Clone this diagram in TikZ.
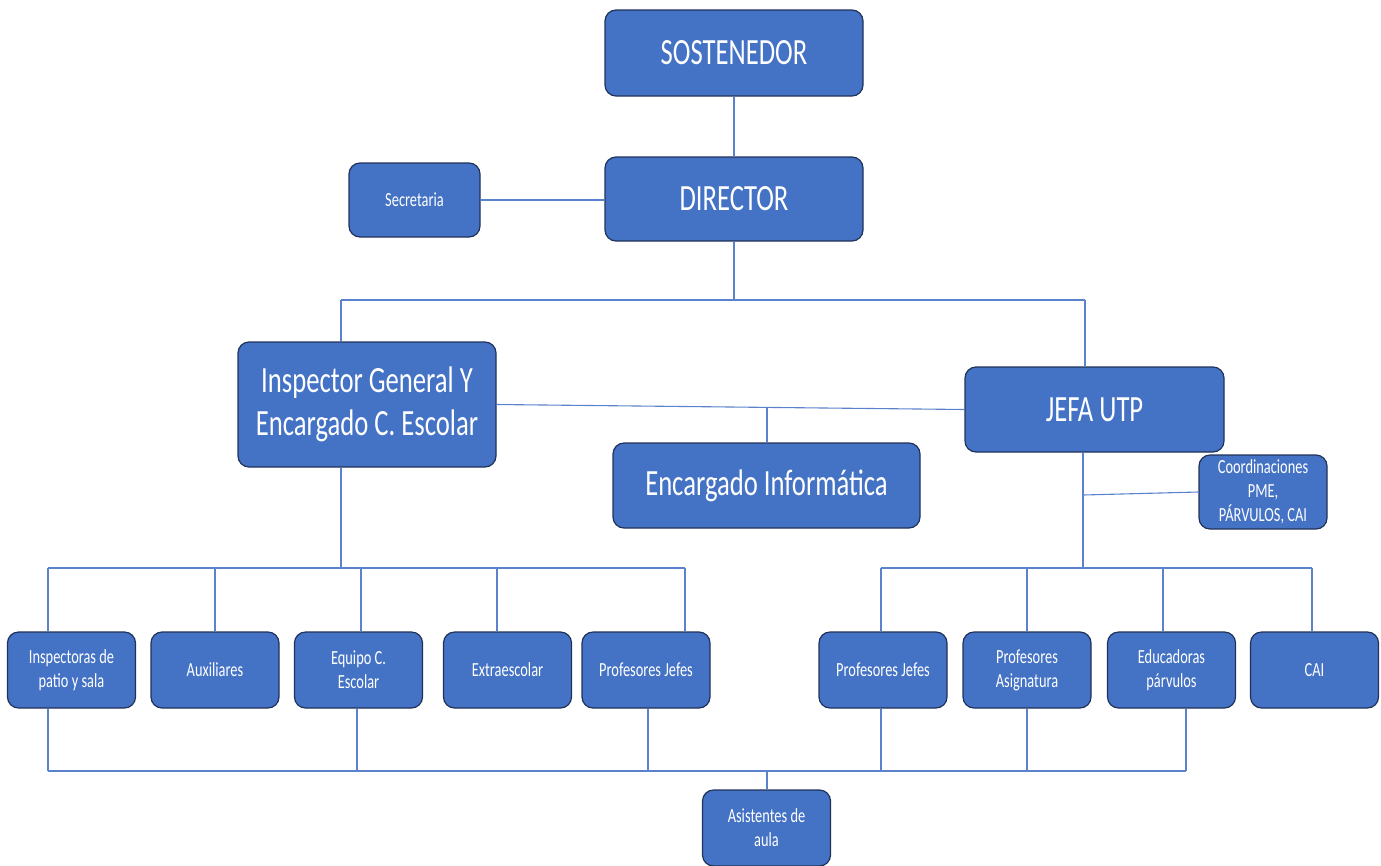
\documentclass[tikz,border=0pt]{standalone}
\usepackage{fontspec}
\setmainfont[FakeStretch=0.72]{Carlito}
\definecolor{boxfill}{RGB}{68,114,196}
\definecolor{boxedge}{RGB}{32,50,90}
\definecolor{conn}{RGB}{90,130,205}
\begin{document}
\begin{tikzpicture}[x=1pt,y=-1pt,
  box/.style={draw=boxedge,fill=boxfill,line width=1.2pt,rounded corners=11pt,text=white,align=center,inner sep=0pt},
  bigbox/.style={box,font=\fontsize{37}{43}\selectfont},
  smallbox/.style={box,font=\fontsize{20}{24}\selectfont,minimum width=128pt,minimum height=76pt},
  conn/.style={draw=conn,line width=1.1pt}]
\useasboundingbox (0,0) rectangle (1381,865);
% top
\node[bigbox,minimum width=258pt,minimum height=86pt] (sost) at (734,53) {SOSTENEDOR};
\node[bigbox,minimum width=258pt,minimum height=84pt] (dir) at (734,199) {DIRECTOR};
\node[smallbox,minimum width=131pt,minimum height=74pt] (sec) at (414.5,200) {Secretaria};
\node[bigbox,minimum width=258pt,minimum height=125pt] (insp) at (367,404.5) {Inspector General Y\\Encargado C. Escolar};
\node[bigbox,minimum width=259pt,minimum height=85pt] (jefa) at (1094.5,409.5) {JEFA UTP};
\node[bigbox,minimum width=307pt,minimum height=85pt] (info) at (766.5,485.5) {Encargado Inform\'atica};
\node[smallbox,minimum height=74pt] (coord) at (1263,492) {Coordinaciones\\PME,\\P\'ARVULOS, CAI};
% bottom row
\node[smallbox] (b1) at (71.5,670) {Inspectoras de\\patio y sala};
\node[smallbox] (b2) at (215,670) {Auxiliares};
\node[smallbox] (b3) at (358.5,670) {Equipo C.\\Escolar};
\node[smallbox] (b4) at (507.5,670) {Extraescolar};
\node[smallbox] (b5) at (646,670) {Profesores Jefes};
\node[smallbox] (b6) at (883,670) {Profesores Jefes};
\node[smallbox] (b7) at (1027,670) {Profesores\\Asignatura};
\node[smallbox] (b8) at (1171.5,670) {Educadoras\\p\'arvulos};
\node[smallbox] (b9) at (1314.5,670) {CAI};
\node[smallbox] (asist) at (766.5,828) {Asistentes de\\aula};
% coordinates
\coordinate (dj) at (734,300);
\coordinate (hl) at (341,300);
\coordinate (hr) at (1085,300);
\coordinate (infoT) at (767,407.4);
\coordinate (ib) at (341,568);
\coordinate (jb) at (1083,568);
\coordinate (jc) at (1083,495);
\coordinate (bl) at (48,771);
\coordinate (br) at (1186,771);
\coordinate (am) at (767,771);
% connectors
\draw[conn] (sost) -- (dir);
\draw[conn] (sec.east) -- (sec.east -| dir.west);
\draw[conn] (dir.south) -- (dj);
\draw[conn] (hl) -- (hr);
\draw[conn] (hl) -- (hl |- insp.north);
\draw[conn] (hr) -- (hr |- jefa.north);
\draw[conn] (insp.east) -- (jefa.west);
\draw[conn] (info.north -| infoT) -- (infoT);
\draw[conn] (ib |- insp.south) -- (ib);
\draw[conn] (48,568) -- (685,568);
\foreach \x/\n in {48/b1,215/b2,361/b3,497/b4,685/b5}
  \draw[conn] (\x,568) -- (\x,568 |- \n.north);
\draw[conn] (jb |- jefa.south) -- (jb);
\draw[conn] (jc) -- (coord.west);
\draw[conn] (881,568) -- (1312,568);
\foreach \x/\n in {881/b6,1027/b7,1163/b8,1312/b9}
  \draw[conn] (\x,568) -- (\x,568 |- \n.north);
\draw[conn] (bl) -- (br);
\foreach \x/\n in {48/b1,357/b3,648/b5,881/b6,1027/b7,1186/b8}
  \draw[conn] (\x,771) -- (\x,771 |- \n.south);
\draw[conn] (am) -- (am |- asist.north);
\end{tikzpicture}
\end{document}
